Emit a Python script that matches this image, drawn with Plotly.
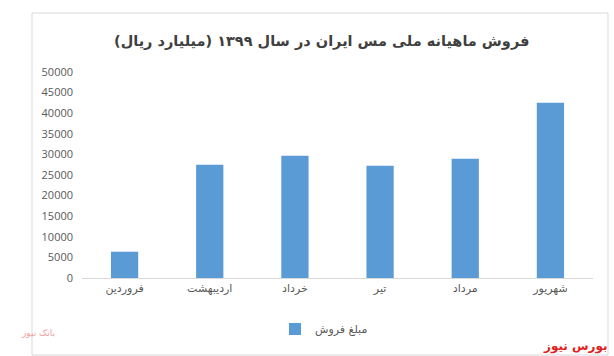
import plotly.graph_objects as go

months = ["فروردین", "اردیبهشت", "خرداد", "تیر", "مرداد", "شهریور"]
sales = [6380, 27500, 29700, 27250, 28950, 42550]
series_name = "مبلغ فروش"
title_text = "فروش ماهیانه ملی مس ایران در سال ۱۳۹۹ (میلیارد ریال)"
y_ticks = list(range(0, 50001, 5000))

W, H = 614, 356
L, R, T, B = 82, 21, 72, 78
pw, ph = W - L - R, H - T - B

def px_to_paper_x(px):
    return (px - L) / pw

def px_to_paper_y(py):
    return (H - B - py) / ph

fig = go.Figure()
fig.add_trace(go.Bar(
    x=months, y=sales, name=series_name,
    marker=dict(color="#5b9bd5", line=dict(width=0)),
))

fig.update_layout(
    width=W, height=H,
    margin=dict(l=L, r=R, t=T, b=B),
    paper_bgcolor="white", plot_bgcolor="white",
    bargap=0.68,
    showlegend=True,
    legend=dict(
        orientation="h", x=px_to_paper_x(324), xanchor="center",
        y=px_to_paper_y(329), yanchor="middle",
        font=dict(family="DejaVu Sans", size=11, color="#595959"),
        itemwidth=30,
    ),
    font=dict(family="DejaVu Sans", color="#595959"),
)
fig.update_xaxes(
    showline=True, linecolor="#d9d9d9", linewidth=1,
    showgrid=False, ticks="",
    tickfont=dict(family="DejaVu Sans", size=11, color="#595959"),
    range=[-0.5, 5.5],
)
fig.update_yaxes(
    range=[0, 50000], tickvals=y_ticks, ticktext=[str(v) for v in y_ticks],
    showgrid=False, zeroline=False, showline=False, ticks="",
    tickfont=dict(family="Open Sans", size=11, color="#595959"),
    ticklabelstandoff=8,
)

# title
fig.add_annotation(
    text="<b>" + title_text + "</b>", xref="paper", yref="paper",
    x=px_to_paper_x(321), y=px_to_paper_y(41), xanchor="center", yanchor="middle",
    showarrow=False, font=dict(family="DejaVu Sans", size=14.5, color="#404040"),
)
# outer chart border
fig.add_shape(
    type="rect", xref="paper", yref="paper",
    x0=px_to_paper_x(32), x1=px_to_paper_x(608),
    y0=px_to_paper_y(355), y1=px_to_paper_y(13),
    line=dict(color="#d9d9d9", width=1), fillcolor="rgba(0,0,0,0)", layer="below",
)
# watermark source text
fig.add_annotation(
    text="<b>بورس نیوز</b>", xref="paper", yref="paper",
    x=px_to_paper_x(610), y=px_to_paper_y(346), xanchor="right", yanchor="middle",
    showarrow=False, font=dict(family="DejaVu Sans", size=12, color="#e0201b"),
)
fig.add_annotation(
    text="بانک نیوز", xref="paper", yref="paper",
    x=px_to_paper_x(38), y=px_to_paper_y(333), xanchor="center", yanchor="middle",
    showarrow=False, font=dict(family="DejaVu Sans", size=9, color="#f2a0a0"),
)

fig.write_html("out.html")
